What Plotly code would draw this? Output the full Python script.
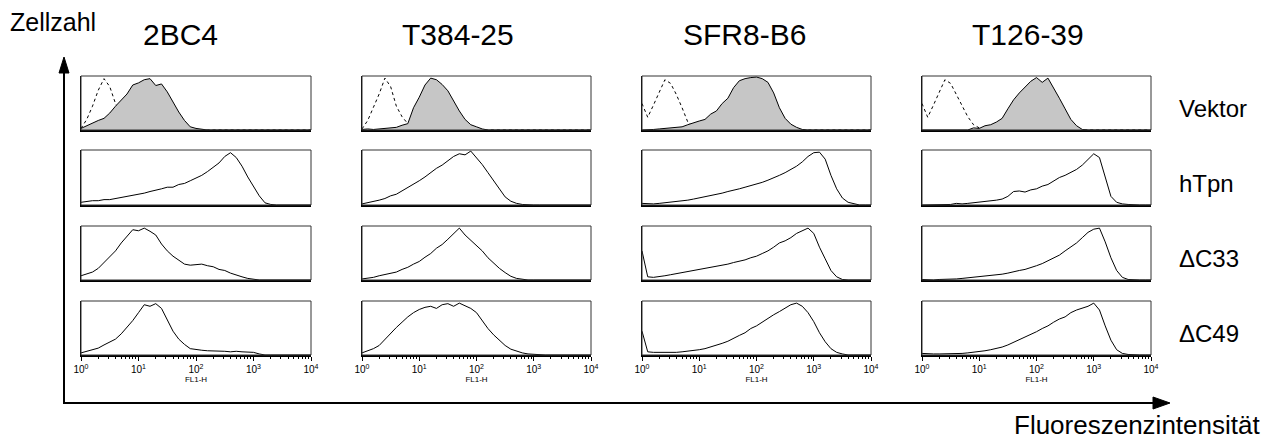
import math
import plotly.graph_objects as go

W, H = 1265, 439

# FL1-H channel positions in decades (log10 of intensity)
decades = [0.0, 0.1, 0.2, 0.3, 0.4, 0.5, 0.6, 0.7, 0.8, 0.9,
           1.0, 1.1, 1.2, 1.3, 1.4, 1.5, 1.6, 1.7, 1.8, 1.9,
           2.0, 2.1, 2.2, 2.3, 2.4, 2.5, 2.6, 2.7, 2.8, 2.9,
           3.0, 3.1, 3.2, 3.3, 3.4, 3.5, 3.6, 3.7, 3.8, 3.9, 4.0]

antibodies = ["2BC4", "T384-25", "SFR8-B6", "T126-39"]
constructs = ["Vektor", "hTpn", "\u0394C33", "\u0394C49"]
tick_text = ["10<sup>0</sup>", "10<sup>1</sup>", "10<sup>2</sup>", "10<sup>3</sup>", "10<sup>4</sup>"]
tick_vals = [0, 1, 2, 3, 4]

# isotype controls (dashed, Vektor row)
ctrl_2bc4 = [0.03, 0.2, 0.45, 0.75, 0.97, 0.82, 0.5, 0.3, 0.15, 0.07,
             0.03, 0.01] + [0] * 29
ctrl_t384 = [0.02, 0.18, 0.43, 0.68, 0.98, 0.82, 0.45, 0.25, 0.12, 0.05,
             0.02] + [0] * 30
ctrl_sfr8 = [0.5, 0.24, 0.47, 0.7, 0.95, 0.88, 0.67, 0.42, 0.15, 0.06,
             0.03, 0.01] + [0] * 29
ctrl_t126 = [0.5, 0.24, 0.47, 0.72, 0.95, 0.88, 0.67, 0.45, 0.25, 0.1,
             0.04, 0.02, 0.01] + [0] * 28

# Vektor (filled)
vektor_2bc4 = [0.03, 0.08, 0.14, 0.18, 0.22, 0.32, 0.45, 0.57, 0.68, 0.85,
               0.89, 0.95, 0.97, 0.84, 0.87, 0.72, 0.53, 0.34, 0.18, 0.06,
               0.03, 0.01] + [0] * 19
vektor_t384 = [0.01, 0.02, 0.01, 0.02, 0.02, 0.03, 0.05, 0.09, 0.12, 0.42,
               0.62, 0.85, 0.98, 0.95, 0.86, 0.74, 0.55, 0.36, 0.2, 0.1,
               0.06, 0.02] + [0] * 19
vektor_sfr8 = [0, 0, 0.01, 0.02, 0.03, 0.03, 0.04, 0.06, 0.1, 0.14,
               0.17, 0.2, 0.3, 0.36, 0.5, 0.6, 0.8, 0.93, 0.97, 0.99,
               1.0, 0.97, 0.9, 0.7, 0.42, 0.22, 0.11, 0.05, 0.01] + [0] * 12
vektor_t126 = [0, 0, 0, 0, 0, 0, 0, 0, 0, 0.04,
               0.03, 0.08, 0.1, 0.15, 0.22, 0.4, 0.57, 0.7, 0.82, 0.92,
               0.99, 0.9, 0.98, 0.8, 0.6, 0.4, 0.2, 0.08, 0.01] + [0] * 12

# hTpn
htpn_2bc4 = [0.05, 0.07, 0.08, 0.08, 0.1, 0.1, 0.12, 0.13, 0.15, 0.17,
             0.2, 0.22, 0.25, 0.27, 0.3, 0.33, 0.33, 0.38, 0.4, 0.45,
             0.5, 0.55, 0.62, 0.7, 0.78, 0.9, 0.97, 0.88, 0.72, 0.52,
             0.35, 0.17, 0.04, 0.01] + [0] * 7
htpn_t384 = [0.02, 0.04, 0.06, 0.09, 0.12, 0.17, 0.2, 0.26, 0.32, 0.38,
             0.45, 0.52, 0.6, 0.68, 0.74, 0.82, 0.9, 0.95, 0.93, 1.0,
             0.88, 0.75, 0.6, 0.45, 0.28, 0.15, 0.07, 0.03, 0.01] + [0] * 12
htpn_sfr8 = [0.03, 0.02, 0.02, 0.03, 0.04, 0.05, 0.06, 0.08, 0.09, 0.11,
             0.13, 0.15, 0.17, 0.19, 0.22, 0.25, 0.27, 0.3, 0.33, 0.36,
             0.38, 0.42, 0.46, 0.5, 0.55, 0.6, 0.66, 0.72, 0.8, 0.9,
             0.97, 0.98, 0.85, 0.55, 0.3, 0.13, 0.05, 0.02] + [0] * 3
htpn_t126 = [0, 0, 0, 0, 0.01, 0.01, 0.03, 0.02, 0.03, 0.04,
             0.06, 0.06, 0.07, 0.09, 0.11, 0.16, 0.25, 0.26, 0.24, 0.28,
             0.3, 0.35, 0.38, 0.45, 0.51, 0.55, 0.6, 0.66, 0.74, 0.85,
             0.95, 0.88, 0.5, 0.16, 0.05, 0.02, 0.01] + [0] * 4

# deltaC33
dc33_2bc4 = [0.08, 0.12, 0.15, 0.22, 0.33, 0.42, 0.55, 0.7, 0.82, 0.95,
             0.93, 0.98, 0.92, 0.85, 0.68, 0.55, 0.45, 0.38, 0.3, 0.28,
             0.29, 0.3, 0.27, 0.25, 0.2, 0.18, 0.13, 0.09, 0.06, 0.03,
             0.01] + [0] * 10
dc33_t384 = [0.02, 0.03, 0.05, 0.08, 0.1, 0.12, 0.15, 0.2, 0.24, 0.3,
             0.35, 0.43, 0.5, 0.6, 0.67, 0.77, 0.87, 0.98, 0.85, 0.75,
             0.65, 0.55, 0.42, 0.32, 0.22, 0.14, 0.07, 0.03, 0.01] + [0] * 12
dc33_sfr8 = [0.55, 0.06, 0.05, 0.06, 0.08, 0.1, 0.12, 0.13, 0.16, 0.18,
             0.2, 0.22, 0.24, 0.25, 0.28, 0.3, 0.33, 0.35, 0.38, 0.42,
             0.45, 0.5, 0.55, 0.62, 0.7, 0.74, 0.8, 0.88, 0.93, 0.98,
             0.88, 0.62, 0.4, 0.18, 0.06, 0.01] + [0] * 5
dc33_t126 = [0.01, 0, 0, 0.01, 0.01, 0.02, 0.02, 0.03, 0.04, 0.05,
             0.06, 0.07, 0.08, 0.09, 0.11, 0.13, 0.16, 0.18, 0.2, 0.23,
             0.27, 0.31, 0.36, 0.42, 0.47, 0.55, 0.62, 0.7, 0.8, 0.9,
             0.96, 0.98, 0.72, 0.42, 0.18, 0.05, 0.01] + [0] * 4

# deltaC49
dc49_2bc4 = [0.04, 0.07, 0.1, 0.13, 0.19, 0.25, 0.3, 0.4, 0.52, 0.65,
             0.8, 0.95, 0.92, 0.97, 0.88, 0.65, 0.45, 0.3, 0.2, 0.12,
             0.1, 0.09, 0.08, 0.08, 0.07, 0.07, 0.06, 0.07, 0.06, 0.05,
             0.05, 0.02] + [0] * 9
dc49_t384 = [0.04, 0.08, 0.12, 0.18, 0.3, 0.42, 0.52, 0.62, 0.72, 0.8,
             0.86, 0.9, 0.92, 0.88, 0.95, 0.97, 0.92, 0.98, 0.93, 0.88,
             0.8, 0.65, 0.5, 0.38, 0.28, 0.18, 0.11, 0.07, 0.04, 0.02,
             0.01] + [0] * 10
dc49_sfr8 = [0.45, 0.06, 0.05, 0.05, 0.04, 0.05, 0.05, 0.06, 0.07, 0.08,
             0.1, 0.12, 0.15, 0.18, 0.22, 0.26, 0.32, 0.37, 0.42, 0.5,
             0.55, 0.62, 0.7, 0.76, 0.82, 0.88, 0.95, 0.98, 0.92, 0.8,
             0.63, 0.42, 0.25, 0.12, 0.05, 0.02] + [0] * 5
dc49_t126 = [0.03, 0.02, 0.02, 0.02, 0.02, 0.02, 0.03, 0.03, 0.04, 0.05,
             0.06, 0.08, 0.1, 0.12, 0.15, 0.19, 0.24, 0.28, 0.33, 0.38,
             0.44, 0.5, 0.55, 0.62, 0.68, 0.72, 0.8, 0.85, 0.88, 0.92,
             0.98, 0.85, 0.55, 0.28, 0.1, 0.03, 0.01] + [0] * 4

controls = [ctrl_2bc4, ctrl_t384, ctrl_sfr8, ctrl_t126]
grid = [
    [vektor_2bc4, vektor_t384, vektor_sfr8, vektor_t126],
    [htpn_2bc4, htpn_t384, htpn_sfr8, htpn_t126],
    [dc33_2bc4, dc33_t384, dc33_sfr8, dc33_t126],
    [dc49_2bc4, dc49_t384, dc49_sfr8, dc49_t126],
]

# ---- layout geometry (pixels) ----
col_px = [(81, 311), (362, 591), (642, 871), (922, 1151)]
row_px = [(76, 130), (150, 205), (226, 280), (301, 355)]
title_x = [180, 458, 744, 1028]
label_y = [108, 183, 258, 333]

FONT = "Arial, Liberation Sans, sans-serif"
minor_vals = [d + math.log10(m) for d in range(4) for m in range(2, 10)]

fig = go.Figure()
layout = dict(width=W, height=H,
              margin=dict(l=0, r=0, t=0, b=0, pad=0, autoexpand=False),
              paper_bgcolor="white", plot_bgcolor="rgba(0,0,0,0)", showlegend=False,
              font=dict(family=FONT, color="black"))
shapes = []
annotations = []

for r in range(4):
    for c in range(4):
        k = r * 4 + c + 1
        sfx = "" if k == 1 else str(k)
        xa, ya = f"x{sfx}", f"y{sfx}"
        if r == 0:
            fig.add_trace(go.Scatter(x=decades, y=controls[c], mode="lines",
                                     line=dict(color="black", width=1, dash="dot"),
                                     xaxis=xa, yaxis=ya, hoverinfo="skip"))
            fig.add_trace(go.Scatter(x=decades, y=grid[r][c], mode="lines",
                                     fill="tozeroy", fillcolor="#c6c6c6",
                                     line=dict(color="black", width=1),
                                     xaxis=xa, yaxis=ya, hoverinfo="skip"))
        else:
            fig.add_trace(go.Scatter(x=decades, y=grid[r][c], mode="lines",
                                     line=dict(color="black", width=1),
                                     xaxis=xa, yaxis=ya, hoverinfo="skip"))
        x0, x1 = col_px[c]
        y0, y1 = row_px[r]
        xax = dict(domain=[x0 / W, x1 / W], anchor=ya, range=[0, 4],
                   showgrid=False, zeroline=False, showline=True,
                   linecolor="black", linewidth=2, fixedrange=True, automargin=False)
        if r == 3:
            xax.update(tickmode="array", tickvals=tick_vals, ticktext=tick_text,
                       ticks="outside", ticklen=4, tickwidth=1, tickcolor="black",
                       tickfont=dict(size=10, family=FONT),
                       minor=dict(tickmode="array", tickvals=minor_vals,
                                  ticks="outside", ticklen=2, tickcolor="black"),
                       title=dict(text="FL1-H", font=dict(size=8, family=FONT),
                                  standoff=0))
        else:
            xax.update(showticklabels=False, ticks="")
        yax = dict(domain=[1 - y1 / H, 1 - y0 / H], anchor=xa, range=[0, 1.02],
                   showgrid=False, zeroline=False, showticklabels=False,
                   ticks="", showline=True, linecolor="black", linewidth=1,
                   fixedrange=True, automargin=False)
        layout[f"xaxis{sfx}"] = xax
        layout[f"yaxis{sfx}"] = yax
        shapes.append(dict(type="rect", xref=f"{xa} domain", yref=f"{ya} domain",
                           x0=0, x1=1, y0=0, y1=1,
                           line=dict(color="#333333", width=1), layer="above"))

# overlay pixel axis for decorations
layout["xaxis17"] = dict(domain=[0, 1], range=[0, W], visible=False, anchor="y17",
                         fixedrange=True, automargin=False)
layout["yaxis17"] = dict(domain=[0, 1], range=[H, 0], visible=False, anchor="x17",
                         fixedrange=True, automargin=False)
fig.add_trace(go.Scatter(x=[], y=[], mode="markers",
                         xaxis="x17", yaxis="y17", hoverinfo="skip"))

# big axes with arrows
shapes += [
    dict(type="line", xref="x17", yref="y17", x0=64, x1=64, y0=404, y1=70,
         line=dict(color="black", width=2)),
    dict(type="path", xref="x17", yref="y17", path="M 64 57 L 59 73 L 69 73 Z",
         fillcolor="black", line=dict(color="black", width=1)),
    dict(type="line", xref="x17", yref="y17", x0=63, x1=1156, y0=403, y1=403,
         line=dict(color="black", width=2)),
    dict(type="path", xref="x17", yref="y17", path="M 1170 403 L 1153 397 L 1153 409 Z",
         fillcolor="black", line=dict(color="black", width=1)),
]

annotations.append(dict(text="Zellzahl", x=8, y=22, xref="x17", yref="y17",
                        xanchor="left", yanchor="middle", showarrow=False,
                        font=dict(size=25, family=FONT)))
for c, name in enumerate(antibodies):
    annotations.append(dict(text=name, x=title_x[c], y=34, xref="x17", yref="y17",
                            xanchor="center", yanchor="middle", showarrow=False,
                            font=dict(size=30, family=FONT)))
for r, name in enumerate(constructs):
    annotations.append(dict(text=name, x=1177, y=label_y[r], xref="x17", yref="y17",
                            xanchor="left", yanchor="middle", showarrow=False,
                            font=dict(size=24, family=FONT)))
annotations.append(dict(text="Fluoreszenzintensität", x=1262, y=425, xref="x17",
                        yref="y17", xanchor="right", yanchor="middle",
                        showarrow=False, font=dict(size=26, family=FONT)))

layout["shapes"] = shapes
layout["annotations"] = annotations
fig.update_layout(**layout)
fig.write_html("out.html", config={"displayModeBar": False},
               post_script="document.body.style.margin='0';document.body.style.overflow='hidden';")
